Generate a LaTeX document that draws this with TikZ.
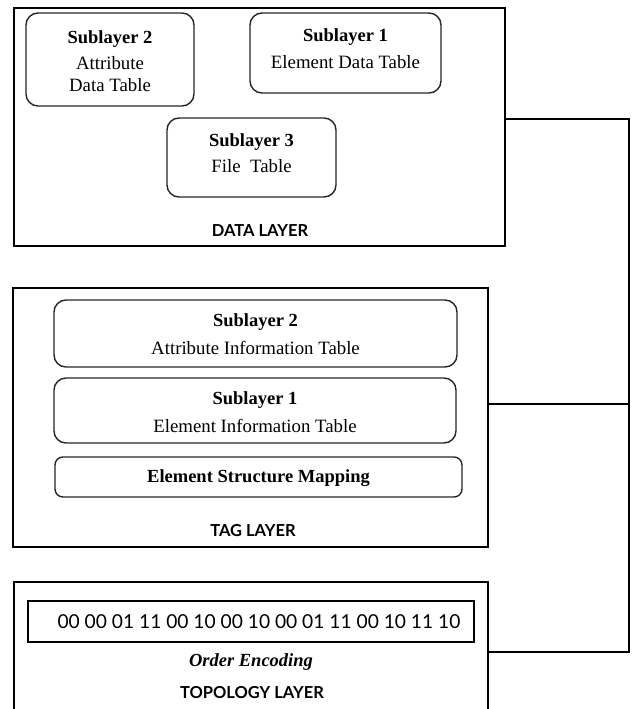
\documentclass[tikz,border=0pt]{standalone}
\usepackage{fontspec}
\setmainfont{Liberation Serif}
\newfontfamily\layerfont{Lato}
\begin{document}
\begin{tikzpicture}[x=1pt,y=-1pt,
  layerbox/.style={draw=black,line width=1.2pt,rectangle,inner sep=0pt},
  subbox/.style={draw=black!85,line width=1.4pt,rounded corners=12pt,rectangle,inner sep=0pt},
  plainbox/.style={draw=black,line width=1.4pt,rectangle,inner sep=0pt},
  title/.style={font=\fontsize{18.5}{20}\selectfont\bfseries,inner sep=0pt,anchor=base},
  body/.style={font=\fontsize{18.8}{20}\selectfont,inner sep=0pt,anchor=base},
  lname/.style={font=\layerfont\bfseries\fontsize{16.5}{18}\selectfont,inner sep=0pt,anchor=base},
  wire/.style={draw=black,line width=1.3pt}]
\clip (0,0) rectangle (636,709);
\useasboundingbox (0,0) rectangle (636,709);
% data layer
\node[layerbox,minimum width=491pt,minimum height=238pt] (data) at (259.5,127) {};
\node[subbox,minimum width=168pt,minimum height=93pt] (d2) at (110,59.5) {};
\node[title] (d2t) at (110,44) {Sublayer 2};
\node[body] (d2a) at (110,70) {Attribute};
\node[body] (d2b) at (110,91) {Data Table};
\node[subbox,minimum width=191pt,minimum height=80pt] (d1) at (345.5,53) {};
\node[title] (d1t) at (345.5,42) {Sublayer 1};
\node[body] (d1b) at (345.5,69) {Element Data Table};
\node[subbox,minimum width=169pt,minimum height=79pt] (d3) at (251.5,157.5) {};
\node[title] (d3t) at (251.5,146) {Sublayer 3};
\node[body] (d3b) at (251.5,172) {File~~Table};
\node[lname] (dl) at (260,236) {DATA LAYER};
% tag layer
\node[layerbox,minimum width=475pt,minimum height=259pt] (tag) at (250.5,417.5) {};
\node[subbox,minimum width=403pt,minimum height=67pt] (t2) at (255.5,333.5) {};
\node[title] (t2t) at (255.5,326) {Sublayer 2};
\node[body] (t2b) at (255.5,354) {Attribute Information Table};
\node[subbox,minimum width=402pt,minimum height=65pt] (t1) at (255,410.5) {};
\node[title] (t1t) at (255,404) {Sublayer 1};
\node[body] (t1b) at (255,432) {Element Information Table};
\node[subbox,rounded corners=8pt,minimum width=407pt,minimum height=40pt] (esm) at (258.5,477) {};
\node[title] (esmt) at (258.5,482) {Element Structure Mapping};
\node[lname] (tl) at (253,536) {TAG LAYER};
% topology layer
\node[layerbox,minimum width=474pt,minimum height=140pt] (topo) at (251,652) {};
\node[plainbox,minimum width=446pt,minimum height=41pt] (enc) at (251,621.5) {};
\node[font=\layerfont\fontsize{19.2}{22}\selectfont,inner sep=0pt,anchor=base] (bits) at (259,628) {00 00 01 11 00 10 00 10 00 01 11 00 10 11 10};
\node[font=\fontsize{18.5}{20}\selectfont\bfseries\itshape,inner sep=0pt,anchor=base] (oe) at (251,666) {Order Encoding};
\node[lname] (topl) at (252,698) {TOPOLOGY LAYER};
% connectors
\coordinate (c1) at (629,119);
\coordinate (c2) at (629,652);
\draw[wire] (data.east |- c1) -- (c1) -- (c2) -- (topo.east |- c2);
\draw[wire] (tag.east |- 0,404) -- (629,404);
\end{tikzpicture}
\end{document}
